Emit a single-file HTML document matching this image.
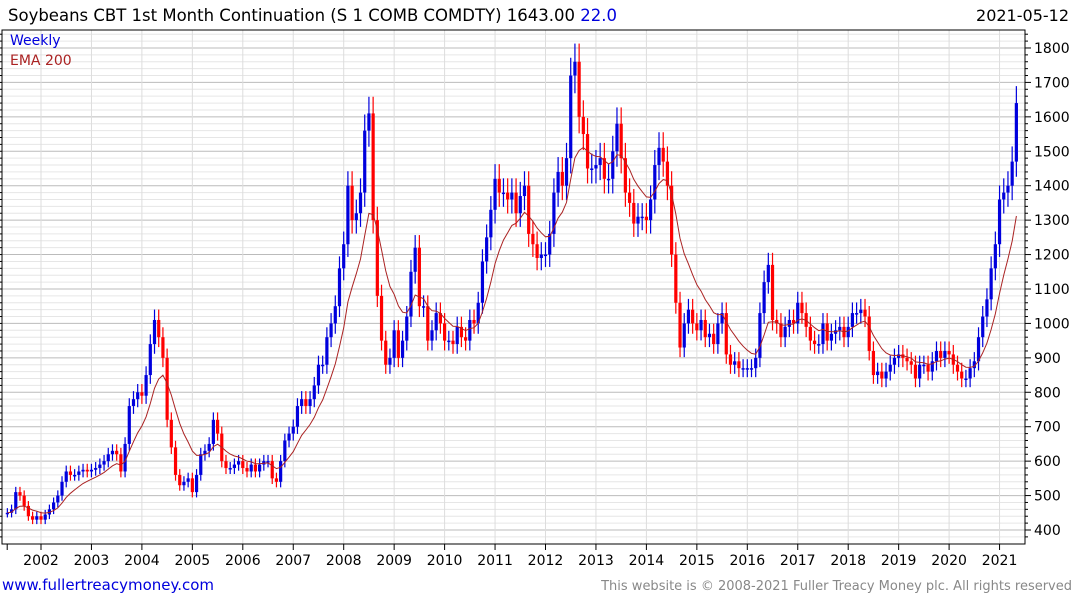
<!DOCTYPE html>
<html><head><meta charset="utf-8"><style>
body{margin:0;background:#fff;font-family:"Liberation Sans","DejaVu Sans",sans-serif}
svg{display:block}
</style></head><body>
<svg id="c" width="1075" height="600">
<text x="8" y="21" font-size="16.5" font-family="DejaVu Sans, sans-serif" fill="#000">Soybeans CBT 1st Month Continuation (S 1 COMB COMDTY) 1643.00 <tspan fill="#0000dd">22.0</tspan></text>
<text x="1069" y="21" font-size="16" font-family="DejaVu Sans, sans-serif" text-anchor="end" fill="#000">2021-05-12</text>
<g id="grid"></g><g id="bars"></g><g id="ema"></g>
<rect x="2" y="30" width="1023" height="514" fill="none" stroke="#000" stroke-width="1"/>
<g id="axes"></g>
<text x="10" y="45" font-size="14" font-family="DejaVu Sans, sans-serif" fill="#0000dd">Weekly</text>
<text x="10" y="65" font-size="14" font-family="DejaVu Sans, sans-serif" fill="#aa2222">EMA 200</text>
<text x="2" y="590" font-size="15" font-family="DejaVu Sans, sans-serif" fill="#0000dd">www.fullertreacymoney.com</text>
<text x="1072" y="590" font-size="13" font-family="DejaVu Sans, sans-serif" fill="#888" text-anchor="end">This website is © 2008-2021 Fuller Treacy Money plc. All rights reserved</text>
</svg>
<script>
const startYear = 2001 + 4/12;
const closes = [
450,460,510,500,470,440,430,440,
430,445,460,480,500,540,570,560,560,570,575,570,
575,580,590,600,620,630,620,570,650,760,780,800,
790,850,940,1010,960,900,720,640,560,530,540,550,
510,560,620,630,650,720,680,600,580,580,590,600,
580,570,590,570,590,600,600,550,540,600,660,680,
700,760,780,760,780,820,880,880,960,1000,1050,1160,
1230,1400,1300,1320,1380,1560,1610,1300,1080,950,880,900,
980,900,950,1020,1150,1220,1050,1050,950,980,1030,1000,
950,950,940,990,960,950,1010,1000,1060,1180,1250,1330,
1420,1380,1380,1360,1380,1320,1370,1400,1260,1230,1190,1200,
1200,1260,1380,1440,1400,1480,1720,1760,1600,1550,1450,1450,
1460,1480,1420,1420,1500,1580,1480,1380,1350,1290,1310,1310,
1300,1360,1460,1510,1470,1400,1200,1060,930,1000,1040,1000,
980,1010,960,970,940,1000,1030,910,880,890,870,870,
870,870,900,1030,1120,1170,1010,1000,960,990,1010,1000,
1060,1030,990,950,940,940,1000,950,970,980,990,960,
990,1030,1030,1040,1020,920,850,860,840,860,880,900,
910,900,890,880,840,880,880,860,890,920,900,920,
910,880,860,840,840,870,890,960,1020,1070,1160,1230,
1360,1380,1400,1470,1640];
const yTicks = [400,500,600,700,800,900,1000,1100,1200,1300,1400,1500,1600,1700,1800];
const xYears = [2002,2003,2004,2005,2006,2007,2008,2009,2010,2011,2012,2013,2014,2015,2016,2017,2018,2019,2020,2021];
const emaPeriod = 10;

const NS="http://www.w3.org/2000/svg";
const X = t => 41 + (t-2002)*50.45;
const Y = p => 530 - (p-400)*0.3443;
function mk(tag, attrs, parent){const e=document.createElementNS(NS,tag);for(const k in attrs)e.setAttribute(k,attrs[k]);parent.appendChild(e);return e;}
const grid=document.getElementById('grid'), bars=document.getElementById('bars'), emaG=document.getElementById('ema'), axes=document.getElementById('axes');
for(let p=380;p<=1840;p+=20){const y=Y(p);if(y<30||y>544)continue;
 const l=mk('line',{x1:2,x2:1025,y1:y,y2:y,stroke:p%100===0?'#bbb':'#e6e6e6','stroke-width':1},grid);
 
 
 const t=mk('line',{x1:1025,x2:p%100===0?1031:1028,y1:y,y2:y,stroke:'#000'},axes);
 
 
 const t2=mk('line',{x1:0,x2:2,y1:y,y2:y,stroke:'#000'},axes);
 
 
}
yTicks.forEach(v=>{const t=mk('text',{x:1034,y:Y(v)+5,'font-size':14,fill:'#000','font-family':'DejaVu Sans, sans-serif'},axes);t.textContent=v;
 
 });
const firstTick=mk('line',{x1:X(2001.33),x2:X(2001.33),y1:544,y2:550,stroke:'#000'},axes);


xYears.forEach(yr=>{const x=X(yr);
 const g=mk('line',{x1:x,x2:x,y1:30,y2:544,stroke:'#ddd'},grid);
 
 
 const t=mk('line',{x1:x,x2:x,y1:544,y2:550,stroke:'#000'},axes);
 
 
 const l=mk('text',{x:x,y:565,'font-size':14,'text-anchor':'middle',fill:'#000','font-family':'DejaVu Sans, sans-serif'},axes);l.textContent=yr;
 
 });
closes.forEach((c,i)=>{const t=startYear+i/12;const x=X(t);const o=i?closes[i-1]:c;
 const up=c>=o;const col=up?'#0000dd':'#ff0000';
 const hi=Math.max(o,c)*1.03, lo=Math.min(o,c)*0.97;
 const w=mk('line',{x1:x,x2:x,y1:Y(hi),y2:Y(lo),stroke:col,'stroke-width':1.2},bars);
 
 
 const b=mk('rect',{x:x-1.6,y:Y(Math.max(o,c)),width:3.2,height:Math.max(1.5,Y(Math.min(o,c))-Y(Math.max(o,c))),fill:col},bars);
 
 });
const a=2/(emaPeriod+1);let e=closes[0];let pts=[];
closes.forEach((c,i)=>{e=i?e+a*(c-e):e;pts.push(X(startYear+i/12).toFixed(1)+','+Y(e).toFixed(1));});
const pl=mk('polyline',{points:pts.join(' '),fill:'none',stroke:'#aa2222','stroke-width':1},emaG);


</script>
</body></html>
